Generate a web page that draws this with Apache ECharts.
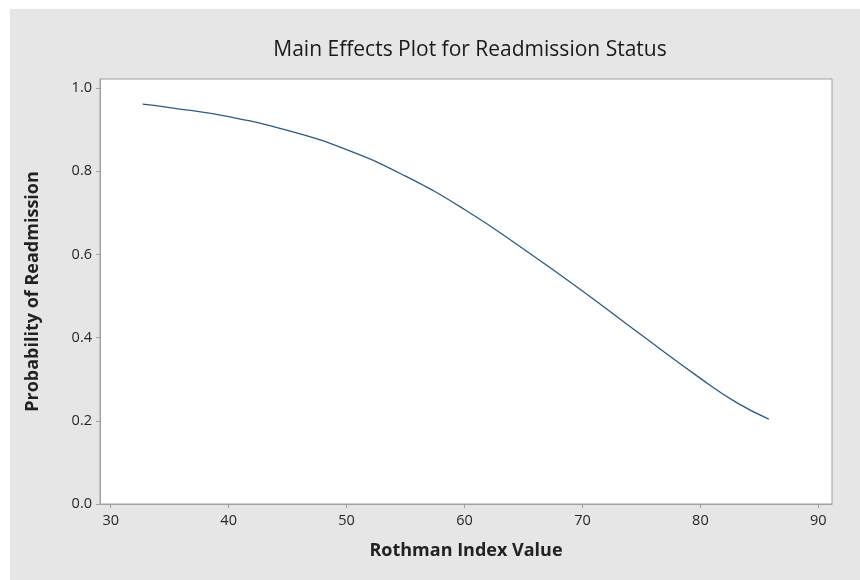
<!DOCTYPE html>
<html>
<head>
<meta charset="utf-8">
<script src="https://cdn.jsdelivr.net/npm/echarts@6/dist/echarts.min.js"></script>
<style>
  html, body { margin: 0; padding: 0; background: #fff; }
  #chart { position: absolute; left: 10px; top: 9px; width: 850px; height: 571px; }
</style>
</head>
<body>
<div id="chart"></div>
<script>
// values
var rothmanIndex = [32.7, 35, 40, 45, 50, 55, 60, 65, 70, 75, 80, 83, 85.8];
var probReadmit = [0.961, 0.953, 0.931, 0.898, 0.852, 0.788, 0.708, 0.613, 0.512, 0.406, 0.302, 0.245, 0.204];
var xTicks = [30, 40, 50, 60, 70, 80, 90];
var yTicks = [0, 0.2, 0.4, 0.6, 0.8, 1.0];

var points = rothmanIndex.map(function (x, i) { return [x, probReadmit[i]]; });

var chart = echarts.init(document.getElementById('chart'));

var axisGrey = '#a0a0a0';
var labelStyle = { color: '#262626', fontSize: 14.5, fontFamily: 'Open Sans' };

var option = {
  backgroundColor: '#e6e6e6',
  animation: false,
  title: {
    text: 'Main Effects Plot for Readmission Status',
    left: 455,
    top: 26,
    textAlign: 'center',
    textStyle: { color: '#1a1a1a', fontSize: 21, fontWeight: 'normal', fontFamily: 'Open Sans' }
  },
  grid: {
    left: 90,
    top: 70,
    right: 28,
    bottom: 76,
    show: true,
    backgroundColor: '#fff',
    borderColor: axisGrey,
    borderWidth: 1
  },
  xAxis: {
    type: 'value',
    min: 29.09,
    max: 91.16,
    name: 'Rothman Index Value',
    nameLocation: 'middle',
    nameGap: 38,
    nameTextStyle: { color: '#222', fontSize: 18, fontWeight: 'bold', fontFamily: 'Open Sans' },
    axisLine: { lineStyle: { color: axisGrey } },
    axisTick: { show: true, length: 4, customValues: xTicks, lineStyle: { color: axisGrey } },
    axisLabel: Object.assign({ customValues: xTicks, margin: 9 }, labelStyle),
    splitLine: { show: false }
  },
  yAxis: {
    type: 'value',
    min: 0,
    max: 1.0216,
    name: 'Probability of Readmission',
    nameLocation: 'middle',
    nameGap: 58,
    nameTextStyle: { color: '#222', fontSize: 18, fontWeight: 'bold', fontFamily: 'Open Sans' },
    axisLine: { show: true, lineStyle: { color: axisGrey } },
    axisTick: { show: true, length: 4, customValues: yTicks, lineStyle: { color: axisGrey } },
    axisLabel: Object.assign({
      customValues: yTicks,
      margin: 8,
      formatter: function (v) { return v.toFixed(1); }
    }, labelStyle),
    splitLine: { show: false }
  },
  series: [{
    type: 'line',
    data: points,
    smooth: 0.5,
    showSymbol: false,
    lineStyle: { color: '#2c5a85', width: 1.3 }
  }]
};

chart.setOption(option);
</script>
</body>
</html>
